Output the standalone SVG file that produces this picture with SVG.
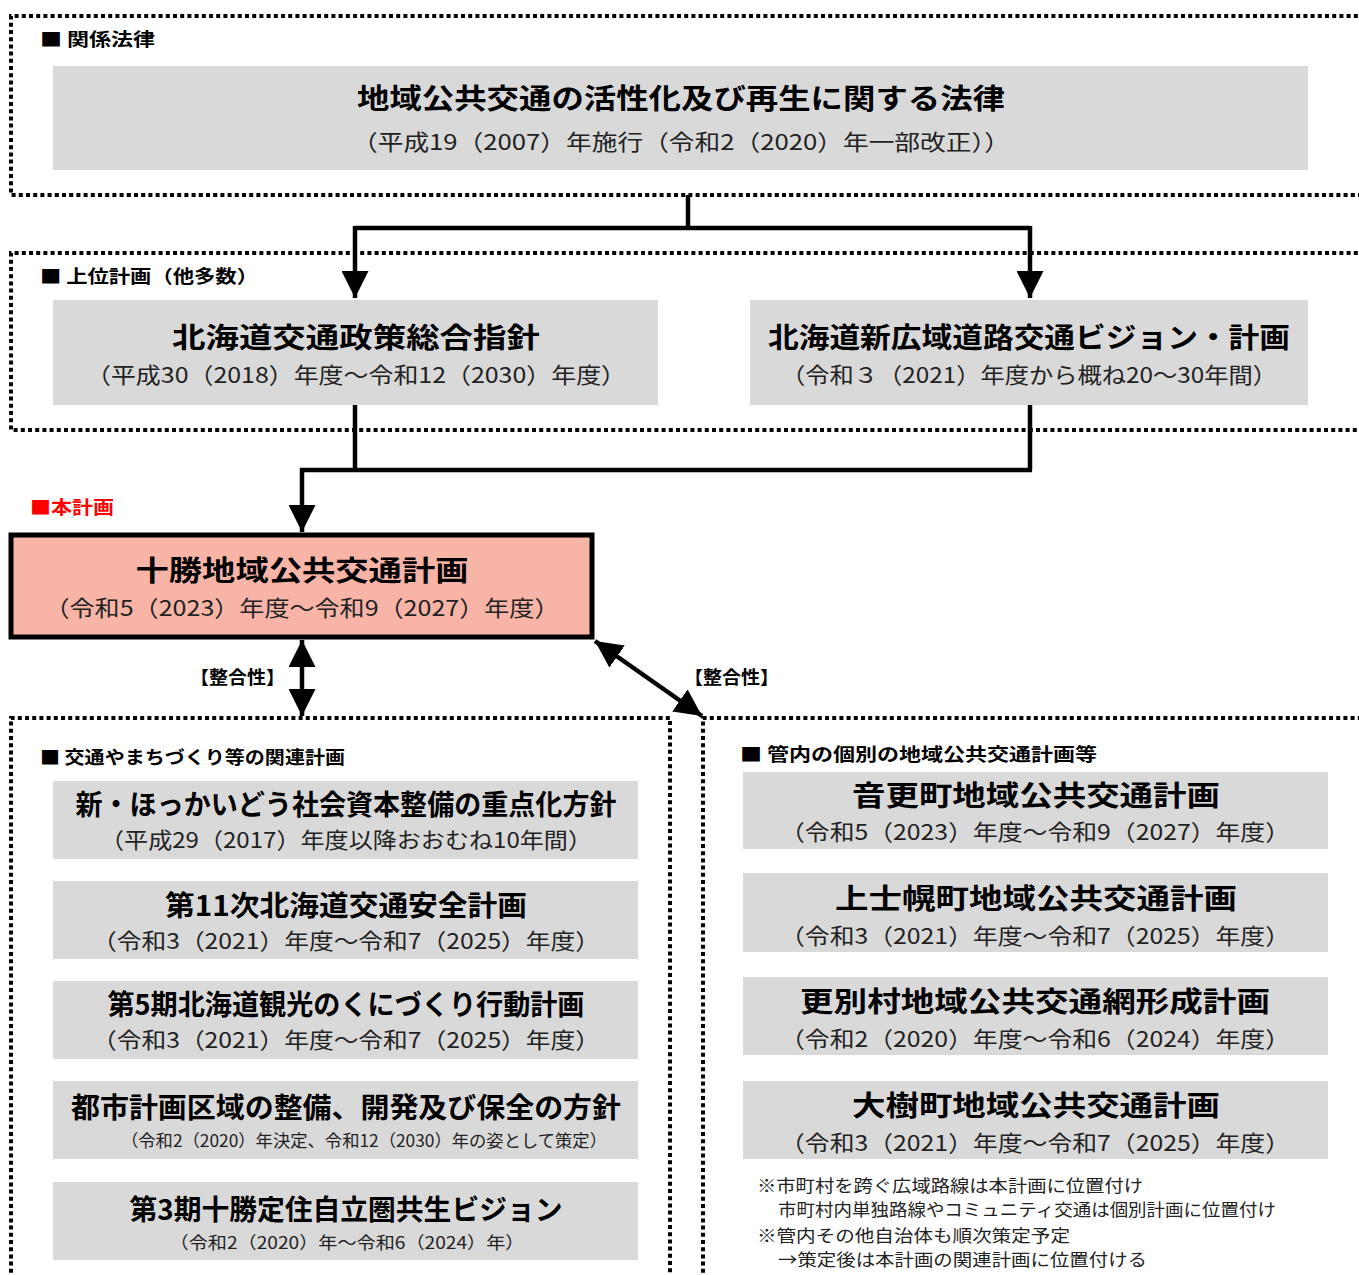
<svg xmlns="http://www.w3.org/2000/svg" width="1359" height="1275" viewBox="0 0 1359 1275">
<defs>
<style>
.frame{fill:none;stroke:#000;stroke-width:4;stroke-dasharray:4 3.2}
.box{fill:#d9d9d9}
.main{fill:#f8b4a7;stroke:#000;stroke-width:5}
.conn{fill:none;stroke:#000;stroke-width:4.5}
text{font-family:"Noto Sans CJK JP","Noto Sans",sans-serif;dominant-baseline:central;fill:#000}
.t{font-size:28px;font-weight:bold;text-anchor:middle}
.s{font-size:22px;text-anchor:middle;fill:#222}
.ss{font-size:17px;text-anchor:middle;fill:#222}
.lbl{font-size:18px;font-weight:bold}
.note{font-size:17px;fill:#222}
</style>
<marker id="ah" viewBox="0 0 10 10" refX="10" refY="5" markerWidth="6" markerHeight="6" markerUnits="strokeWidth" orient="auto-start-reverse">
<path d="M0,0 L10,5 L0,10 Z" fill="#000"/>
</marker>
</defs>
<rect width="1359" height="1275" fill="#fff"/>

<g id="frames">
<path class="frame" d="M1365,16 H11 V195 H1365"/>
<path class="frame" d="M1365,253 H11 V430 H1365"/>
<path class="frame" d="M11,1280 V718 H670 V1280"/>
<path class="frame" d="M703,1280 V718 H1365"/>
</g>

<g id="labels">
<text class="lbl" x="40" y="38" textLength="115" lengthAdjust="spacingAndGlyphs">■ 関係法律</text>
<text class="lbl" x="40" y="275" textLength="218" lengthAdjust="spacingAndGlyphs">■ 上位計画（他多数）</text>
<text class="lbl" x="30" y="506" textLength="84" lengthAdjust="spacingAndGlyphs" style="fill:#ff0000">■本計画</text>
<text class="lbl" x="40" y="756" textLength="305" lengthAdjust="spacingAndGlyphs">■ 交通やまちづくり等の関連計画</text>
<text class="lbl" x="740" y="753" textLength="357" lengthAdjust="spacingAndGlyphs">■ 管内の個別の地域公共交通計画等</text>
<text class="lbl" x="190" y="676" textLength="95" lengthAdjust="spacingAndGlyphs">【整合性】</text>
<text class="lbl" x="684" y="676" textLength="95" lengthAdjust="spacingAndGlyphs">【整合性】</text>
</g>

<g id="connectors">
<path class="conn" d="M688,195 V228"/>
<path class="conn" d="M355,228 H1030"/>
<path class="conn" d="M355,226 V298" marker-end="url(#ah)"/>
<path class="conn" d="M1030,226 V298" marker-end="url(#ah)"/>
<path class="conn" d="M355,405 V470"/>
<path class="conn" d="M1030,405 V470"/>
<path class="conn" d="M300,470 H1032"/>
<path class="conn" d="M302,468 V532" marker-end="url(#ah)"/>
<path class="conn" d="M302,640 V716" marker-start="url(#ah)" marker-end="url(#ah)"/>
<path class="conn" d="M595,641 L702,716" marker-start="url(#ah)" marker-end="url(#ah)"/>
</g>

<g id="law">
<rect class="box" x="53" y="66" width="1255" height="104"/>
<text class="t" x="681" y="97" textLength="648" lengthAdjust="spacingAndGlyphs">地域公共交通の活性化及び再生に関する法律</text>
<text class="s" x="681" y="140" textLength="658" lengthAdjust="spacingAndGlyphs">（平成19（2007）年施行（令和2（2020）年一部改正））</text>
</g>

<g id="upper1">
<rect class="box" x="53" y="300" width="605" height="105"/>
<text class="t" x="356" y="336" textLength="368" lengthAdjust="spacingAndGlyphs">北海道交通政策総合指針</text>
<text class="s" x="356" y="373" textLength="540" lengthAdjust="spacingAndGlyphs">（平成30（2018）年度～令和12（2030）年度）</text>
</g>

<g id="upper2">
<rect class="box" x="750" y="300" width="558" height="105"/>
<text class="t" x="1029" y="336" textLength="522" lengthAdjust="spacingAndGlyphs">北海道新広域道路交通ビジョン・計画</text>
<text class="s" x="1029" y="373" textLength="496" lengthAdjust="spacingAndGlyphs">（令和３（2021）年度から概ね20～30年間）</text>
</g>

<g id="main">
<rect class="main" x="11" y="535" width="581" height="102"/>
<text class="t" x="302" y="569" textLength="333" lengthAdjust="spacingAndGlyphs">十勝地域公共交通計画</text>
<text class="s" x="302" y="606" textLength="515" lengthAdjust="spacingAndGlyphs">（令和5（2023）年度～令和9（2027）年度）</text>
</g>

<g id="rel1">
<rect class="box" x="53" y="781" width="585" height="78"/>
<text class="t" x="346" y="803" textLength="541" lengthAdjust="spacingAndGlyphs">新・ほっかいどう社会資本整備の重点化方針</text>
<text class="s" x="346" y="838" textLength="492" lengthAdjust="spacingAndGlyphs">（平成29（2017）年度以降おおむね10年間）</text>
</g>
<g id="rel2">
<rect class="box" x="53" y="881" width="585" height="78"/>
<text class="t" x="346" y="904" textLength="362" lengthAdjust="spacingAndGlyphs">第11次北海道交通安全計画</text>
<text class="s" x="346" y="939" textLength="508" lengthAdjust="spacingAndGlyphs">（令和3（2021）年度～令和7（2025）年度）</text>
</g>
<g id="rel3">
<rect class="box" x="53" y="981" width="585" height="78"/>
<text class="t" x="346" y="1003" textLength="477" lengthAdjust="spacingAndGlyphs">第5期北海道観光のくにづくり行動計画</text>
<text class="s" x="346" y="1038" textLength="508" lengthAdjust="spacingAndGlyphs">（令和3（2021）年度～令和7（2025）年度）</text>
</g>
<g id="rel4">
<rect class="box" x="53" y="1081" width="585" height="78"/>
<text class="t" x="346" y="1106" textLength="550" lengthAdjust="spacingAndGlyphs">都市計画区域の整備、開発及び保全の方針</text>
<text class="ss" x="364" y="1139" textLength="486" lengthAdjust="spacingAndGlyphs">（令和2（2020）年決定、令和12（2030）年の姿として策定）</text>
</g>
<g id="rel5">
<rect class="box" x="53" y="1182" width="585" height="78"/>
<text class="t" x="346" y="1208" textLength="433" lengthAdjust="spacingAndGlyphs">第3期十勝定住自立圏共生ビジョン</text>
<text class="ss" x="347" y="1241" textLength="355" lengthAdjust="spacingAndGlyphs">（令和2（2020）年～令和6（2024）年）</text>
</g>

<g id="loc1">
<rect class="box" x="743" y="772" width="585" height="77"/>
<text class="t" x="1036" y="794" textLength="368" lengthAdjust="spacingAndGlyphs">音更町地域公共交通計画</text>
<text class="s" x="1035" y="830" textLength="510" lengthAdjust="spacingAndGlyphs">（令和5（2023）年度～令和9（2027）年度）</text>
</g>
<g id="loc2">
<rect class="box" x="743" y="873" width="585" height="79"/>
<text class="t" x="1036" y="897" textLength="402" lengthAdjust="spacingAndGlyphs">上士幌町地域公共交通計画</text>
<text class="s" x="1035" y="934" textLength="510" lengthAdjust="spacingAndGlyphs">（令和3（2021）年度～令和7（2025）年度）</text>
</g>
<g id="loc3">
<rect class="box" x="743" y="977" width="585" height="78"/>
<text class="t" x="1035" y="1000" textLength="470" lengthAdjust="spacingAndGlyphs">更別村地域公共交通網形成計画</text>
<text class="s" x="1035" y="1037" textLength="510" lengthAdjust="spacingAndGlyphs">（令和2（2020）年度～令和6（2024）年度）</text>
</g>
<g id="loc4">
<rect class="box" x="743" y="1081" width="585" height="78"/>
<text class="t" x="1036" y="1104" textLength="368" lengthAdjust="spacingAndGlyphs">大樹町地域公共交通計画</text>
<text class="s" x="1035" y="1141" textLength="510" lengthAdjust="spacingAndGlyphs">（令和3（2021）年度～令和7（2025）年度）</text>
</g>

<g id="notes">
<text class="note" x="757" y="1184" textLength="386" lengthAdjust="spacingAndGlyphs">※市町村を跨ぐ広域路線は本計画に位置付け</text>
<text class="note" x="778" y="1208" textLength="498" lengthAdjust="spacingAndGlyphs">市町村内単独路線やコミュニティ交通は個別計画に位置付け</text>
<text class="note" x="757" y="1234" textLength="313" lengthAdjust="spacingAndGlyphs">※管内その他自治体も順次策定予定</text>
<text class="note" x="778" y="1258" textLength="369" lengthAdjust="spacingAndGlyphs">→策定後は本計画の関連計画に位置付ける</text>
</g>
</svg>
